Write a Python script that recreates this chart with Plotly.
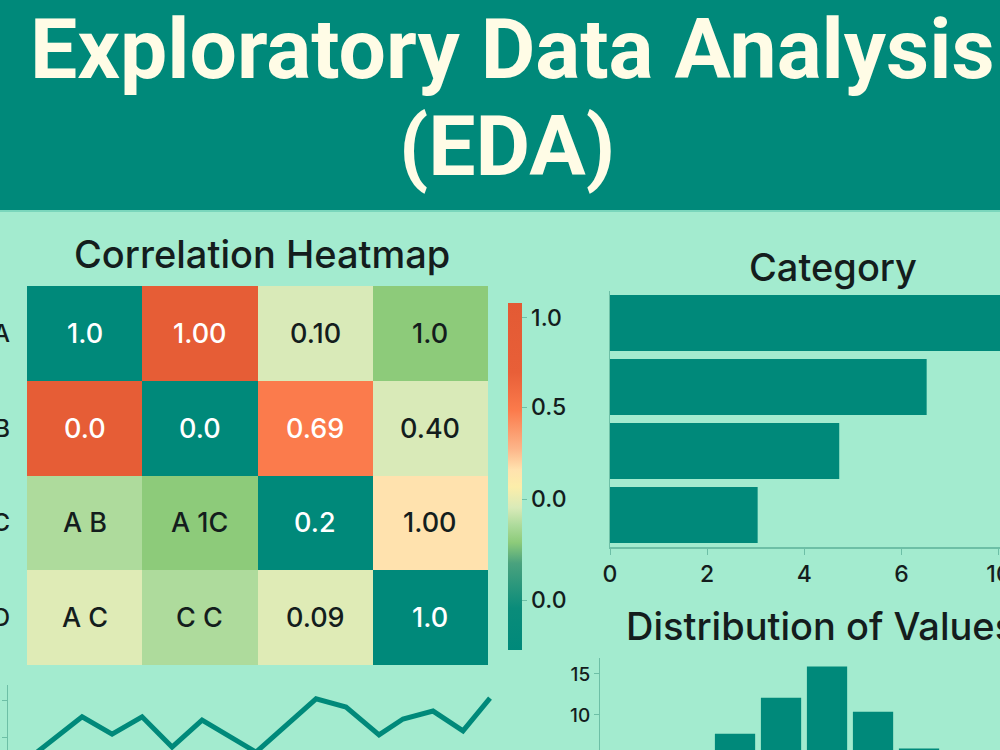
import plotly.graph_objects as go

# ---------------- data ----------------
heat_rows = ["A", "B", "C", "D"]
heat_cols = ["A", "B", "C", "D"]
heat_color_values = [
    [0.00, 0.90, 0.41, 0.31],
    [0.90, 0.00, 0.69, 0.41],
    [0.36, 0.31, 0.00, 0.52],
    [0.42, 0.36, 0.42, 0.00],
]
heat_labels = [
    ["1.0", "1.00", "0.10", "1.0"],
    ["0.0", "0.0", "0.69", "0.40"],
    ["A B", "A 1C", "0.2", "1.00"],
    ["A C", "C C", "0.09", "1.0"],
]
colorbar_tick_positions = [0.144, 0.435, 0.700, 0.957]
colorbar_tick_labels = ["0.0", "0.0", "0.5", "1.0"]

category_names = ["A", "B", "C", "D"]
category_values = [9.2, 6.52, 4.72, 3.04]
bar_tick_values = [0, 2, 4, 6, 8]
bar_tick_labels = ["0", "2", "4", "6", "10"]

hist_bins = [0, 1, 2, 3, 4, 5, 6, 7]
hist_counts = [1.5, 3.5, 7.7, 12.1, 15.9, 10.4, 5.9, 2.5]

line_x = [0, 1.5, 2.5, 3.5, 4.5, 5.5, 7.3, 9.3, 10.3, 11.4, 12.2, 13.2, 14.2, 15.1]
line_y = [5.8, 15.6, 10.8, 15.6, 7.2, 14.7, 5.8, 20.6, 18.3, 10.6, 15.0, 17.2, 11.7, 20.8]

# ---------------- style ----------------
BG = "#A3EBCF"
TEAL = "#00897A"
CREAM = "#FFFCE6"
DARK = "#141D1D"
AXIS = "#6DBFA6"
W, H = 1000, 750


def px_x(p):
    return p / W


def px_y(p):
    return 1 - p / H


colorscale = [
    [0.00, "#00897A"], [0.12, "#0A8C7A"], [0.25, "#4AA27E"], [0.31, "#8DCB7A"],
    [0.36, "#AEDB9C"], [0.41, "#D9EAB8"], [0.47, "#FCEEAA"], [0.52, "#FFE2AE"],
    [0.58, "#FCB589"], [0.69, "#FB7B4C"], [0.80, "#E85F38"], [1.00, "#E35A34"],
]

fig = go.Figure()

fig.add_trace(go.Heatmap(
    z=heat_color_values, x=heat_cols, y=heat_rows,
    colorscale=colorscale, zmin=0, zmax=1, hoverinfo="skip",
    xaxis="x", yaxis="y",
    colorbar=dict(
        x=px_x(508), xanchor="left", xpad=0, ypad=0,
        y=px_y(476.5), yanchor="middle", len=347 / H, lenmode="fraction",
        thickness=14, outlinewidth=0,
        tickmode="array", tickvals=colorbar_tick_positions, ticktext=colorbar_tick_labels,
        ticks="outside", ticklen=5, tickcolor=AXIS,
        tickfont=dict(family="Inter", size=23, color=DARK, weight=500),
    ),
))

fig.add_trace(go.Bar(
    x=category_values, y=category_names, orientation="h",
    marker=dict(color=TEAL, line=dict(width=0)), hoverinfo="skip",
    xaxis="x2", yaxis="y2",
))

fig.add_trace(go.Bar(
    x=hist_bins, y=hist_counts,
    marker=dict(color=TEAL, line=dict(width=0)), hoverinfo="skip",
    xaxis="x3", yaxis="y3",
))

fig.add_trace(go.Scatter(
    x=line_x, y=line_y, mode="lines",
    line=dict(color=TEAL, width=5), hoverinfo="skip",
    xaxis="x4", yaxis="y4",
))

annotations = []
for i, r in enumerate(heat_rows):
    for j, c in enumerate(heat_cols):
        v = heat_color_values[i][j]
        col = "white" if (v < 0.1 or v > 0.6) else DARK
        annotations.append(dict(
            x=c, y=r, xref="x", yref="y", text=heat_labels[i][j], showarrow=False,
            font=dict(family="Inter", size=27, color=col, weight=500),
        ))

annotations += [
    dict(x=0.512, y=px_y(50), xref="paper", yref="paper", text="Exploratory Data Analysis",
         showarrow=False, xanchor="center", yanchor="middle",
         font=dict(family="Roboto", size=84, color=CREAM, weight=700)),
    dict(x=0.507, y=px_y(147), xref="paper", yref="paper", text="(EDA)",
         showarrow=False, xanchor="center", yanchor="middle",
         font=dict(family="Roboto", size=84, color=CREAM, weight=700)),
    dict(x=px_x(262), y=px_y(254), xref="paper", yref="paper", text="Correlation Heatmap",
         showarrow=False, xanchor="center", yanchor="middle",
         font=dict(family="Inter", size=38, color=DARK, weight=500)),
    dict(x=px_x(833), y=px_y(267), xref="paper", yref="paper", text="Category",
         showarrow=False, xanchor="center", yanchor="middle",
         font=dict(family="Inter", size=38, color=DARK, weight=500)),
    dict(x=px_x(624), y=px_y(626), xref="paper", yref="paper", text="Distribution of Values",
         showarrow=False, xanchor="left", yanchor="middle",
         font=dict(family="Inter", size=38, color=DARK, weight=500)),
]

fig.update_layout(
    width=W, height=H, autosize=False,
    margin=dict(l=0, r=0, t=0, b=0, pad=0, autoexpand=False),
    paper_bgcolor=BG, plot_bgcolor=BG,
    showlegend=False,
    bargap=0.125,
    annotations=annotations,
    shapes=[
        dict(type="rect", xref="paper", yref="paper", x0=0, x1=1, y0=px_y(210), y1=1,
             fillcolor=TEAL, line=dict(width=0), layer="below"),
        dict(type="line", xref="paper", yref="paper", x0=0, x1=1, y0=px_y(211), y1=px_y(211),
             line=dict(color="#7AD6BC", width=2)),
    ],
    # heatmap
    xaxis=dict(domain=[px_x(27), px_x(488)], anchor="y", showticklabels=False, automargin=False,
               showgrid=False, zeroline=False, showline=False, ticks=""),
    yaxis=dict(domain=[px_y(665), px_y(286)], anchor="x", autorange="reversed", automargin=False,
               showgrid=False, zeroline=False, showline=False, ticks="",
               ticklabelstandoff=16, tickfont=dict(family="Inter", size=24, color=DARK, weight=500)),
    # category bars
    xaxis2=dict(domain=[px_x(610), 1.0], anchor="y2", range=[0, 8.03], automargin=False,
                tickmode="array", tickvals=bar_tick_values, ticktext=bar_tick_labels,
                ticklabeloverflow="allow",
                ticks="outside", ticklen=6, tickcolor=AXIS, showline=True, linecolor=AXIS,
                linewidth=1.5, showgrid=False, zeroline=False,
                tickfont=dict(family="Inter", size=23, color=DARK, weight=500)),
    yaxis2=dict(domain=[px_y(547), px_y(291)], anchor="x2", autorange="reversed", automargin=False,
                showticklabels=False, showgrid=False, zeroline=False, ticks="",
                showline=True, linecolor=AXIS, linewidth=1),
    # histogram
    xaxis3=dict(domain=[px_x(600), 1.0], anchor="y3", range=[-0.935, 7.76], visible=False,
                automargin=False),
    yaxis3=dict(domain=[0, px_y(658)], anchor="x3", range=[5.73, 16.95], dtick=5, automargin=False,
                ticks="outside", ticklen=5, tickcolor=AXIS, showline=True, linecolor=AXIS,
                showgrid=False, zeroline=False,
                tickfont=dict(family="Inter", size=19, color=DARK, weight=500)),
    # line chart
    xaxis4=dict(domain=[px_x(8), px_x(520)], anchor="y4", range=[-0.97, 16.1], visible=False,
                automargin=False),
    yaxis4=dict(domain=[0, px_y(685)], anchor="x4", range=[6.39, 24.44], automargin=False,
                tickvals=[10, 20], ticks="outside", ticklen=5, tickcolor=AXIS,
                ticklabeloverflow="allow",
                showline=True, linecolor=AXIS, showgrid=False, zeroline=False,
                tickfont=dict(family="Inter", size=19, color=DARK)),
)

fig.write_html("out.html")
